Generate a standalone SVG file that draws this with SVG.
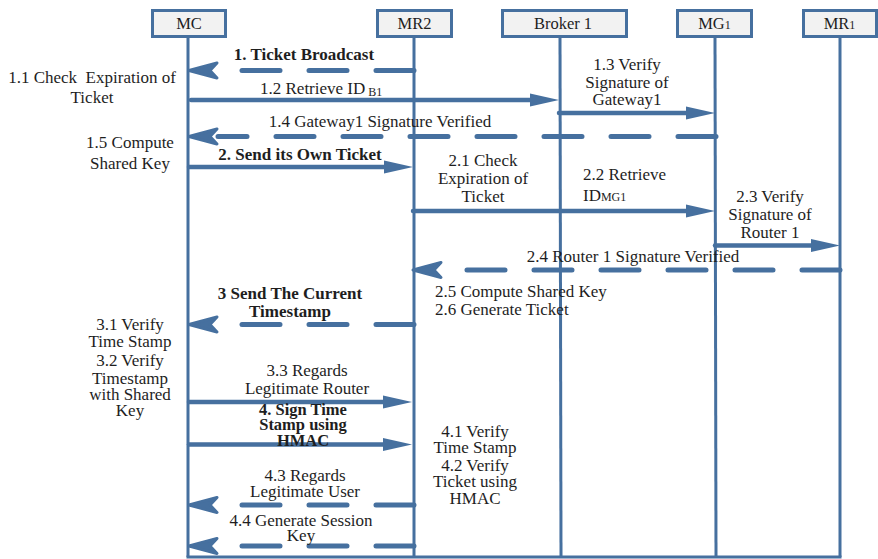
<svg xmlns="http://www.w3.org/2000/svg" width="878" height="559" viewBox="0 0 878 559">
<style>
  .box{fill:#f2f2f2;stroke:#46709f;stroke-width:3}
  .life{stroke:#46709f;stroke-width:3;fill:none}
  .sol{stroke:#46709f;stroke-width:4.5;fill:none;stroke-linecap:round;marker-end:url(#solid)}
  .dash{stroke:#46709f;stroke-width:5;fill:none;stroke-linecap:round;stroke-dasharray:38 29;marker-end:url(#open)}
  text{font-family:'Liberation Serif','DejaVu Serif','Times New Roman',serif;font-size:17px;fill:#1e1e1e}
  .hd{font-size:16.5px;text-anchor:middle}
  .c{text-anchor:middle}
  .b{font-weight:bold}
  .sm{font-size:12px}
</style>
<defs>
  <marker id="solid" markerUnits="userSpaceOnUse" markerWidth="30" markerHeight="14" refX="0" refY="6.5" orient="auto" overflow="visible">
    <path d="M0,0 L29,6.5 L0,13 Z" fill="#46709f"/>
  </marker>
  <marker id="open" markerUnits="userSpaceOnUse" markerWidth="32" markerHeight="18" refX="0" refY="8" orient="auto" overflow="visible">
    <path d="M1,0.5 L29,8 L1,15.5 L8,8 Z" fill="#46709f" stroke="#46709f" stroke-width="3" stroke-linejoin="round"/>
  </marker>
</defs>
<rect width="878" height="559" fill="#ffffff"/>

<g id="lifelines">
  <line class="life" x1="188" y1="38" x2="188" y2="557"/>
  <line class="life" x1="414" y1="38" x2="414" y2="557"/>
  <line class="life" x1="560" y1="38" x2="561" y2="557"/>
  <line class="life" x1="715" y1="38" x2="716" y2="557"/>
  <line class="life" x1="840" y1="38" x2="840" y2="557"/>
  <line class="life" x1="186.5" y1="557" x2="841.5" y2="557"/>
</g>

<g font-family="Liberation Serif, DejaVu Serif, serif">
<g id="node-MC"><rect class="box" x="152.5" y="10.5" width="73" height="26"/><text class="hd" x="189" y="29">MC</text></g>
<g id="node-MR2"><rect class="box" x="377.5" y="10.5" width="74" height="26"/><text class="hd" x="414.5" y="29">MR2</text></g>
<g id="node-Broker1"><rect class="box" x="502.5" y="10.5" width="124" height="26"/><text class="hd" x="563" y="29">Broker 1</text></g>
<g id="node-MG1"><rect class="box" x="677.5" y="10.5" width="74" height="26"/><text class="hd" x="714.5" y="29">MG<tspan class="sm">1</tspan></text></g>
<g id="node-MR1"><rect class="box" x="803.5" y="10.5" width="73" height="26"/><text class="hd" x="839.5" y="29">MR<tspan class="sm">1</tspan></text></g>
</g>

<g id="connectors">
  <line class="dash" x1="414" y1="70.5" x2="218" y2="70.5"/>
  <line class="sol" x1="191" y1="100" x2="530" y2="100"/>
  <line class="sol" x1="559" y1="113" x2="686" y2="113"/>
  <line class="dash" x1="716" y1="136.5" x2="218" y2="136.5"/>
  <line class="sol" x1="189" y1="167" x2="384" y2="167"/>
  <line class="sol" x1="413" y1="211" x2="686" y2="211"/>
  <line class="sol" x1="715" y1="245.5" x2="811" y2="245.5"/>
  <line class="dash" x1="840" y1="270" x2="442" y2="270"/>
  <line class="dash" x1="414" y1="324.5" x2="218" y2="324.5"/>
  <line class="sol" x1="189" y1="402" x2="383" y2="402"/>
  <line class="sol" x1="189" y1="444.5" x2="383" y2="444.5"/>
  <line class="dash" x1="414" y1="505" x2="218" y2="505"/>
  <line class="dash" x1="414" y1="546" x2="218" y2="546"/>
</g>

<g id="labels" font-family="Liberation Serif, DejaVu Serif, serif">
  <text class="c b" x="304" y="60">1. Ticket Broadcast</text>
  <text class="c" x="92" xml:space="preserve"><tspan x="92" y="83">1.1 Check  Expiration of</tspan><tspan x="92" y="103">Ticket</tspan></text>
  <text x="260" y="94">1.2 Retrieve ID<tspan class="sm" dx="3" dy="2">B1</tspan></text>
  <text class="c"><tspan x="627" y="70">1.3 Verify</tspan><tspan x="627" y="87.5">Signature of</tspan><tspan x="627" y="105">Gateway1</tspan></text>
  <text class="c" x="380" y="127">1.4 Gateway1 Signature Verified</text>
  <text class="c"><tspan x="130" y="147.5">1.5 Compute</tspan><tspan x="130" y="168.5">Shared Key</tspan></text>
  <text class="c b" x="300" y="160">2. Send its Own Ticket</text>
  <text class="c"><tspan x="483" y="166">2.1 Check</tspan><tspan x="483" y="183.5">Expiration of</tspan><tspan x="483" y="201.5">Ticket</tspan></text>
  <text><tspan x="583" y="180">2.2 Retrieve</tspan><tspan x="583" y="200.5">ID<tspan class="sm" font-size="13">MG1</tspan></tspan></text>
  <text class="c"><tspan x="770" y="202">2.3 Verify</tspan><tspan x="770" y="220">Signature of</tspan><tspan x="770" y="238">Router 1</tspan></text>
  <text class="c" x="633" y="261.5">2.4 Router 1 Signature Verified</text>
  <text><tspan x="435" y="297">2.5 Compute Shared Key</tspan><tspan x="435" y="315">2.6 Generate Ticket</tspan></text>
  <text class="c b"><tspan x="290" y="299">3 Send The Current</tspan><tspan x="290" y="316.5">Timestamp</tspan></text>
  <text class="c"><tspan x="130" y="330">3.1 Verify</tspan><tspan x="130" y="347">Time Stamp</tspan><tspan x="130" y="366">3.2 Verify</tspan><tspan x="130" y="384">Timestamp</tspan><tspan x="130" y="400">with Shared</tspan><tspan x="130" y="416">Key</tspan></text>
  <text class="c"><tspan x="307" y="376">3.3 Regards</tspan><tspan x="307" y="394">Legitimate Router</tspan></text>
  <text class="c b" style="font-size:16.5px"><tspan x="303" y="415">4. Sign Time</tspan><tspan x="303" y="430">Stamp using</tspan><tspan x="303" y="445.5">HMAC</tspan></text>
  <text class="c"><tspan x="475" y="436.5">4.1 Verify</tspan><tspan x="475" y="453">Time Stamp</tspan><tspan x="475" y="470.5">4.2 Verify</tspan><tspan x="475" y="487">Ticket using</tspan><tspan x="475" y="504">HMAC</tspan></text>
  <text class="c"><tspan x="305" y="481">4.3 Regards</tspan><tspan x="305" y="496.5">Legitimate User</tspan></text>
  <text class="c"><tspan x="301" y="526">4.4 Generate Session</tspan><tspan x="301" y="540.5">Key</tspan></text>
</g>
</svg>
